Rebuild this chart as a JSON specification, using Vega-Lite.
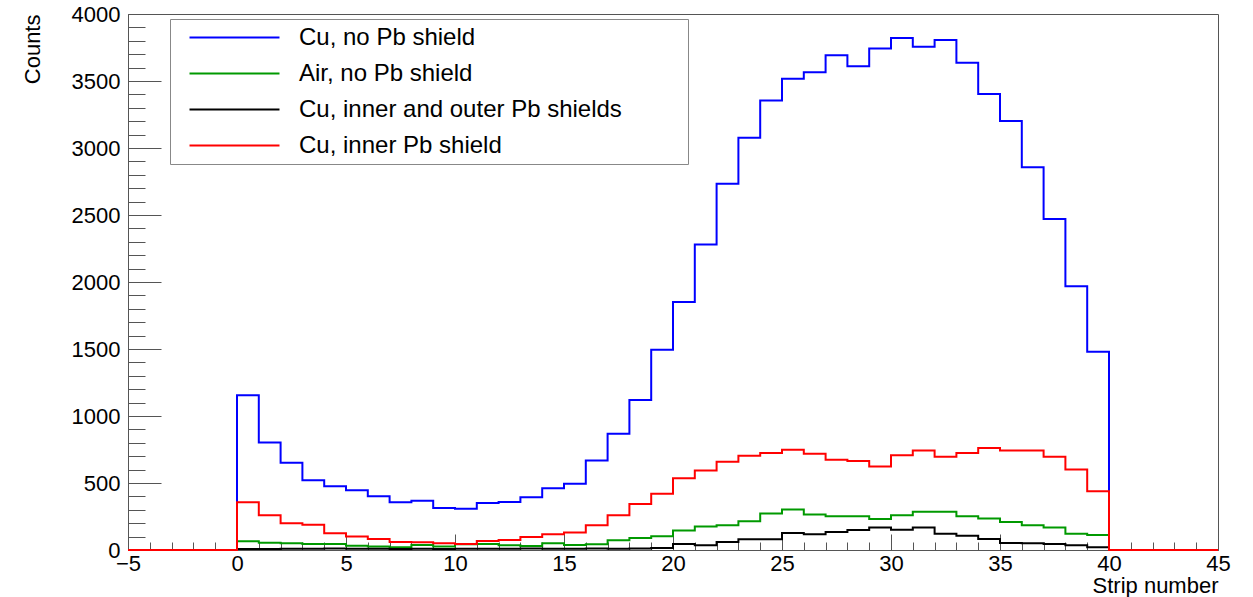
{
  "$schema": "https://vega.github.io/schema/vega-lite/v6.json",
  "autosize": "none",
  "width": 1090,
  "height": 536,
  "padding": {"left": 128, "top": 14, "right": 35, "bottom": 47},
  "background": "white",
  "config": {
    "view": {"stroke": "#555", "strokeWidth": 1},
    "font": "Liberation Sans",
    "axis": {"labelFont": "Liberation Sans", "titleFont": "Liberation Sans", "labelColor": "black", "titleColor": "black", "titleFontWeight": "normal", "grid": false, "domainColor": "#555", "tickColor": "#555", "tickWidth": 1},
    "legend": {
      "orient": "none", "legendX": 42, "legendY": 5, "direction": "vertical",
      "symbolType": "M-4,0H4", "symbolSize": 506, "symbolStrokeWidth": 2, "symbolOffset": 46,
      "labelFont": "Liberation Sans", "labelFontSize": 24, "labelColor": "black",
      "labelOffset": 52, "rowPadding": 11, "padding": 6, "labelLimit": 0,
      "strokeColor": "#888", "fillColor": "white", "title": null
    }
  },
  "datasets": {
    "hist": [
      {"series":"Cu, no Pb shield","strip":-5,"counts":0},
      {"series":"Cu, no Pb shield","strip":0,"counts":1155},
      {"series":"Cu, no Pb shield","strip":1,"counts":803},
      {"series":"Cu, no Pb shield","strip":2,"counts":652},
      {"series":"Cu, no Pb shield","strip":3,"counts":520},
      {"series":"Cu, no Pb shield","strip":4,"counts":476},
      {"series":"Cu, no Pb shield","strip":5,"counts":445},
      {"series":"Cu, no Pb shield","strip":6,"counts":402},
      {"series":"Cu, no Pb shield","strip":7,"counts":356},
      {"series":"Cu, no Pb shield","strip":8,"counts":368},
      {"series":"Cu, no Pb shield","strip":9,"counts":314},
      {"series":"Cu, no Pb shield","strip":10,"counts":307},
      {"series":"Cu, no Pb shield","strip":11,"counts":351},
      {"series":"Cu, no Pb shield","strip":12,"counts":358},
      {"series":"Cu, no Pb shield","strip":13,"counts":393},
      {"series":"Cu, no Pb shield","strip":14,"counts":461},
      {"series":"Cu, no Pb shield","strip":15,"counts":495},
      {"series":"Cu, no Pb shield","strip":16,"counts":667},
      {"series":"Cu, no Pb shield","strip":17,"counts":868},
      {"series":"Cu, no Pb shield","strip":18,"counts":1120},
      {"series":"Cu, no Pb shield","strip":19,"counts":1495},
      {"series":"Cu, no Pb shield","strip":20,"counts":1850},
      {"series":"Cu, no Pb shield","strip":21,"counts":2280},
      {"series":"Cu, no Pb shield","strip":22,"counts":2733},
      {"series":"Cu, no Pb shield","strip":23,"counts":3076},
      {"series":"Cu, no Pb shield","strip":24,"counts":3354},
      {"series":"Cu, no Pb shield","strip":25,"counts":3516},
      {"series":"Cu, no Pb shield","strip":26,"counts":3565},
      {"series":"Cu, no Pb shield","strip":27,"counts":3693},
      {"series":"Cu, no Pb shield","strip":28,"counts":3611},
      {"series":"Cu, no Pb shield","strip":29,"counts":3742},
      {"series":"Cu, no Pb shield","strip":30,"counts":3821},
      {"series":"Cu, no Pb shield","strip":31,"counts":3755},
      {"series":"Cu, no Pb shield","strip":32,"counts":3806},
      {"series":"Cu, no Pb shield","strip":33,"counts":3636},
      {"series":"Cu, no Pb shield","strip":34,"counts":3403},
      {"series":"Cu, no Pb shield","strip":35,"counts":3201},
      {"series":"Cu, no Pb shield","strip":36,"counts":2857},
      {"series":"Cu, no Pb shield","strip":37,"counts":2470},
      {"series":"Cu, no Pb shield","strip":38,"counts":1968},
      {"series":"Cu, no Pb shield","strip":39,"counts":1479},
      {"series":"Cu, no Pb shield","strip":40,"counts":0},
      {"series":"Cu, no Pb shield","strip":45,"counts":0},

      {"series":"Air, no Pb shield","strip":-5,"counts":0},
      {"series":"Air, no Pb shield","strip":0,"counts":65},
      {"series":"Air, no Pb shield","strip":1,"counts":55},
      {"series":"Air, no Pb shield","strip":2,"counts":50},
      {"series":"Air, no Pb shield","strip":3,"counts":45},
      {"series":"Air, no Pb shield","strip":4,"counts":45},
      {"series":"Air, no Pb shield","strip":5,"counts":32},
      {"series":"Air, no Pb shield","strip":6,"counts":27},
      {"series":"Air, no Pb shield","strip":7,"counts":20},
      {"series":"Air, no Pb shield","strip":8,"counts":38},
      {"series":"Air, no Pb shield","strip":9,"counts":27},
      {"series":"Air, no Pb shield","strip":10,"counts":42},
      {"series":"Air, no Pb shield","strip":11,"counts":45},
      {"series":"Air, no Pb shield","strip":12,"counts":35},
      {"series":"Air, no Pb shield","strip":13,"counts":30},
      {"series":"Air, no Pb shield","strip":14,"counts":50},
      {"series":"Air, no Pb shield","strip":15,"counts":37},
      {"series":"Air, no Pb shield","strip":16,"counts":42},
      {"series":"Air, no Pb shield","strip":17,"counts":72},
      {"series":"Air, no Pb shield","strip":18,"counts":90},
      {"series":"Air, no Pb shield","strip":19,"counts":102},
      {"series":"Air, no Pb shield","strip":20,"counts":145},
      {"series":"Air, no Pb shield","strip":21,"counts":176},
      {"series":"Air, no Pb shield","strip":22,"counts":184},
      {"series":"Air, no Pb shield","strip":23,"counts":214},
      {"series":"Air, no Pb shield","strip":24,"counts":272},
      {"series":"Air, no Pb shield","strip":25,"counts":302},
      {"series":"Air, no Pb shield","strip":26,"counts":264},
      {"series":"Air, no Pb shield","strip":27,"counts":252},
      {"series":"Air, no Pb shield","strip":28,"counts":252},
      {"series":"Air, no Pb shield","strip":29,"counts":232},
      {"series":"Air, no Pb shield","strip":30,"counts":260},
      {"series":"Air, no Pb shield","strip":31,"counts":285},
      {"series":"Air, no Pb shield","strip":32,"counts":285},
      {"series":"Air, no Pb shield","strip":33,"counts":252},
      {"series":"Air, no Pb shield","strip":34,"counts":236},
      {"series":"Air, no Pb shield","strip":35,"counts":209},
      {"series":"Air, no Pb shield","strip":36,"counts":184},
      {"series":"Air, no Pb shield","strip":37,"counts":167},
      {"series":"Air, no Pb shield","strip":38,"counts":122},
      {"series":"Air, no Pb shield","strip":39,"counts":112},
      {"series":"Air, no Pb shield","strip":40,"counts":0},
      {"series":"Air, no Pb shield","strip":45,"counts":0},

      {"series":"Cu, inner and outer Pb shields","strip":-5,"counts":0},
      {"series":"Cu, inner and outer Pb shields","strip":0,"counts":8},
      {"series":"Cu, inner and outer Pb shields","strip":1,"counts":8},
      {"series":"Cu, inner and outer Pb shields","strip":2,"counts":10},
      {"series":"Cu, inner and outer Pb shields","strip":3,"counts":10},
      {"series":"Cu, inner and outer Pb shields","strip":4,"counts":12},
      {"series":"Cu, inner and outer Pb shields","strip":5,"counts":10},
      {"series":"Cu, inner and outer Pb shields","strip":6,"counts":10},
      {"series":"Cu, inner and outer Pb shields","strip":7,"counts":8},
      {"series":"Cu, inner and outer Pb shields","strip":8,"counts":10},
      {"series":"Cu, inner and outer Pb shields","strip":9,"counts":8},
      {"series":"Cu, inner and outer Pb shields","strip":10,"counts":10},
      {"series":"Cu, inner and outer Pb shields","strip":11,"counts":10},
      {"series":"Cu, inner and outer Pb shields","strip":12,"counts":10},
      {"series":"Cu, inner and outer Pb shields","strip":13,"counts":12},
      {"series":"Cu, inner and outer Pb shields","strip":14,"counts":10},
      {"series":"Cu, inner and outer Pb shields","strip":15,"counts":10},
      {"series":"Cu, inner and outer Pb shields","strip":16,"counts":12},
      {"series":"Cu, inner and outer Pb shields","strip":17,"counts":10},
      {"series":"Cu, inner and outer Pb shields","strip":18,"counts":12},
      {"series":"Cu, inner and outer Pb shields","strip":19,"counts":15},
      {"series":"Cu, inner and outer Pb shields","strip":20,"counts":45},
      {"series":"Cu, inner and outer Pb shields","strip":21,"counts":36},
      {"series":"Cu, inner and outer Pb shields","strip":22,"counts":60},
      {"series":"Cu, inner and outer Pb shields","strip":23,"counts":80},
      {"series":"Cu, inner and outer Pb shields","strip":24,"counts":80},
      {"series":"Cu, inner and outer Pb shields","strip":25,"counts":127},
      {"series":"Cu, inner and outer Pb shields","strip":26,"counts":117},
      {"series":"Cu, inner and outer Pb shields","strip":27,"counts":135},
      {"series":"Cu, inner and outer Pb shields","strip":28,"counts":150},
      {"series":"Cu, inner and outer Pb shields","strip":29,"counts":167},
      {"series":"Cu, inner and outer Pb shields","strip":30,"counts":152},
      {"series":"Cu, inner and outer Pb shields","strip":31,"counts":167},
      {"series":"Cu, inner and outer Pb shields","strip":32,"counts":122},
      {"series":"Cu, inner and outer Pb shields","strip":33,"counts":107},
      {"series":"Cu, inner and outer Pb shields","strip":34,"counts":82},
      {"series":"Cu, inner and outer Pb shields","strip":35,"counts":52},
      {"series":"Cu, inner and outer Pb shields","strip":36,"counts":50},
      {"series":"Cu, inner and outer Pb shields","strip":37,"counts":45},
      {"series":"Cu, inner and outer Pb shields","strip":38,"counts":35},
      {"series":"Cu, inner and outer Pb shields","strip":39,"counts":20},
      {"series":"Cu, inner and outer Pb shields","strip":40,"counts":0},
      {"series":"Cu, inner and outer Pb shields","strip":45,"counts":0},

      {"series":"Cu, inner Pb shield","strip":-5,"counts":0},
      {"series":"Cu, inner Pb shield","strip":0,"counts":356},
      {"series":"Cu, inner Pb shield","strip":1,"counts":259},
      {"series":"Cu, inner Pb shield","strip":2,"counts":199},
      {"series":"Cu, inner Pb shield","strip":3,"counts":189},
      {"series":"Cu, inner Pb shield","strip":4,"counts":125},
      {"series":"Cu, inner Pb shield","strip":5,"counts":100},
      {"series":"Cu, inner Pb shield","strip":6,"counts":82},
      {"series":"Cu, inner Pb shield","strip":7,"counts":60},
      {"series":"Cu, inner Pb shield","strip":8,"counts":57},
      {"series":"Cu, inner Pb shield","strip":9,"counts":50},
      {"series":"Cu, inner Pb shield","strip":10,"counts":45},
      {"series":"Cu, inner Pb shield","strip":11,"counts":67},
      {"series":"Cu, inner Pb shield","strip":12,"counts":75},
      {"series":"Cu, inner Pb shield","strip":13,"counts":97},
      {"series":"Cu, inner Pb shield","strip":14,"counts":117},
      {"series":"Cu, inner Pb shield","strip":15,"counts":130},
      {"series":"Cu, inner Pb shield","strip":16,"counts":184},
      {"series":"Cu, inner Pb shield","strip":17,"counts":259},
      {"series":"Cu, inner Pb shield","strip":18,"counts":344},
      {"series":"Cu, inner Pb shield","strip":19,"counts":419},
      {"series":"Cu, inner Pb shield","strip":20,"counts":536},
      {"series":"Cu, inner Pb shield","strip":21,"counts":593},
      {"series":"Cu, inner Pb shield","strip":22,"counts":658},
      {"series":"Cu, inner Pb shield","strip":23,"counts":703},
      {"series":"Cu, inner Pb shield","strip":24,"counts":723},
      {"series":"Cu, inner Pb shield","strip":25,"counts":748},
      {"series":"Cu, inner Pb shield","strip":26,"counts":718},
      {"series":"Cu, inner Pb shield","strip":27,"counts":673},
      {"series":"Cu, inner Pb shield","strip":28,"counts":665},
      {"series":"Cu, inner Pb shield","strip":29,"counts":623},
      {"series":"Cu, inner Pb shield","strip":30,"counts":707},
      {"series":"Cu, inner Pb shield","strip":31,"counts":743},
      {"series":"Cu, inner Pb shield","strip":32,"counts":695},
      {"series":"Cu, inner Pb shield","strip":33,"counts":723},
      {"series":"Cu, inner Pb shield","strip":34,"counts":762},
      {"series":"Cu, inner Pb shield","strip":35,"counts":743},
      {"series":"Cu, inner Pb shield","strip":36,"counts":743},
      {"series":"Cu, inner Pb shield","strip":37,"counts":695},
      {"series":"Cu, inner Pb shield","strip":38,"counts":601},
      {"series":"Cu, inner Pb shield","strip":39,"counts":439},
      {"series":"Cu, inner Pb shield","strip":40,"counts":0},
      {"series":"Cu, inner Pb shield","strip":45,"counts":0}
    ]
  },
  "data": {"name": "hist"},
  "resolve": {"axis": {"x": "independent", "y": "independent"}},
  "layer": [
    {
      "transform": [{"filter": "datum.series === 'Cu, no Pb shield'"}],
      "mark": {"type": "line", "interpolate": "step-after", "strokeWidth": 2},
      "encoding": {
        "x": {"field": "strip", "type": "quantitative",
              "scale": {"domain": [-5, 45], "nice": false, "zero": false},
              "axis": {"orient": "bottom", "values": [-5,0,5,10,15,20,25,30,35,40,45], "tickSize": -16, "labelPadding": 19,
                       "labelFontSize": 22, "title": "Strip number", "titleFontSize": 22, "titleAnchor": "end", "titlePadding": 1, "labelFlush": false, "labelOverlap": false}},
        "y": {"field": "counts", "type": "quantitative",
              "scale": {"domain": [0, 4000], "nice": false},
              "axis": {"orient": "left", "values": [0,500,1000,1500,2000,2500,3000,3500,4000], "format": "d", "tickSize": -33, "labelPadding": 41,
                       "labelFontSize": 22, "title": "Counts", "titleFontSize": 22, "titleAnchor": "end", "titlePadding": 27, "labelOverlap": false}},
        "color": {"field": "series", "type": "nominal",
                  "scale": {"domain": ["Cu, no Pb shield", "Air, no Pb shield", "Cu, inner and outer Pb shields", "Cu, inner Pb shield"],
                            "range": ["#0000ff", "#009900", "#000000", "#ff0000"]},
                  "legend": {"labelExpr": "datum.label + '         \u200b'"}}
      }
    },
    {
      "transform": [{"filter": "datum.series === 'Air, no Pb shield'"}],
      "mark": {"type": "line", "interpolate": "step-after", "strokeWidth": 2},
      "encoding": {
        "x": {"field": "strip", "type": "quantitative",
              "axis": {"orient": "bottom", "values": [-4,-3,-2,-1,1,2,3,4,6,7,8,9,11,12,13,14,16,17,18,19,21,22,23,24,26,27,28,29,31,32,33,34,36,37,38,39,41,42,43,44],
                       "tickSize": -8, "labels": false, "domain": false, "title": null}},
        "y": {"field": "counts", "type": "quantitative",
              "axis": {"orient": "left", "values": [100,200,300,400,600,700,800,900,1100,1200,1300,1400,1600,1700,1800,1900,2100,2200,2300,2400,2600,2700,2800,2900,3100,3200,3300,3400,3600,3700,3800,3900],
                       "tickSize": -17, "labels": false, "domain": false, "title": null}},
        "color": {"field": "series", "type": "nominal"}
      }
    },
    {
      "transform": [{"filter": "datum.series === 'Cu, inner and outer Pb shields'"}],
      "mark": {"type": "line", "interpolate": "step-after", "strokeWidth": 2},
      "encoding": {
        "x": {"field": "strip", "type": "quantitative", "axis": null},
        "y": {"field": "counts", "type": "quantitative", "axis": null},
        "color": {"field": "series", "type": "nominal"}
      }
    },
    {
      "transform": [{"filter": "datum.series === 'Cu, inner Pb shield'"}],
      "mark": {"type": "line", "interpolate": "step-after", "strokeWidth": 2},
      "encoding": {
        "x": {"field": "strip", "type": "quantitative", "axis": null},
        "y": {"field": "counts", "type": "quantitative", "axis": null},
        "color": {"field": "series", "type": "nominal"}
      }
    }
  ]
}
